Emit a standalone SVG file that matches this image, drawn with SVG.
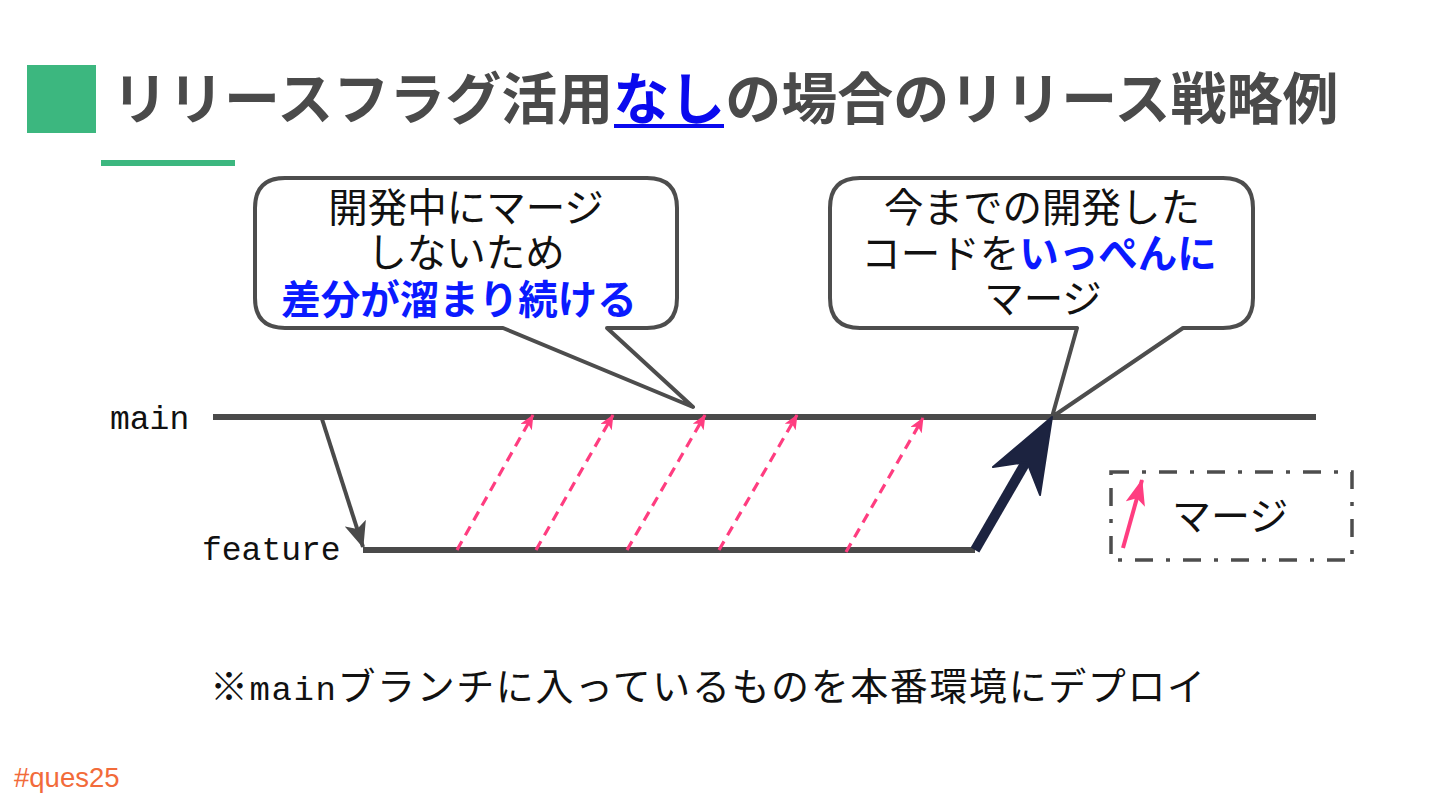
<svg xmlns="http://www.w3.org/2000/svg" width="1440" height="810" viewBox="0 0 1440 810">
<style>
.jp{font-family:"Noto Sans CJK JP","Noto Sans",sans-serif;}
.mono{font-family:"Liberation Mono","DejaVu Sans Mono",monospace;}
.bubble{fill:#fff;stroke:#4d4d4d;stroke-width:4;stroke-linejoin:round;}
.btxt{font-size:39.5px;fill:#111;text-anchor:middle;}
.blue{fill:#0a1aff;font-weight:700;}
.branch{stroke:#4a4a4a;stroke-width:6;fill:none;}
.pink{stroke:#ff3d80;stroke-width:3.2;stroke-dasharray:10 7;fill:none;}
</style>
<defs>
<marker id="pinkHead" markerUnits="userSpaceOnUse" viewBox="0 0 15 13" refX="14" refY="6.5" markerWidth="15" markerHeight="13" orient="auto">
<path d="M0,0 L15,6.5 L0,13 L4,6.5 Z" fill="#ff3d80"/>
</marker>
<marker id="pinkHeadBig" markerUnits="userSpaceOnUse" viewBox="0 0 26 20" refX="25" refY="10" markerWidth="26" markerHeight="20" orient="auto">
<path d="M0,0 L26,10 L0,20 L6,10 Z" fill="#ff3d80"/>
</marker>
<marker id="grayHead" markerUnits="userSpaceOnUse" viewBox="0 0 26 22" refX="25" refY="11" markerWidth="26" markerHeight="22" orient="auto">
<path d="M0,0 L26,11 L0,22 L6,11 Z" fill="#4a4a4a"/>
</marker>
</defs>
<rect width="1440" height="810" fill="#fff"/>

<g id="title">
<rect x="27" y="65" width="69" height="68" fill="#3cb77f"/>
<text x="112" y="119" class="jp" font-size="56" font-weight="700" fill="#4a4a4a">リリースフラグ活用<tspan fill="#0a0aee">なし</tspan>の場合のリリース戦略例</text>
<rect x="614" y="124" width="110" height="4" fill="#0a0aee"/>
<rect x="101" y="160" width="134" height="6" fill="#3cb77f"/>
</g>

<g id="bubble-left">
<path class="bubble" d="M285,178 H647 Q677,178 677,208 V298 Q677,328 647,328 H607 L693,407 L503,328 H285 Q255,328 255,298 V208 Q255,178 285,178 Z"/>
<text class="jp btxt" x="466" y="222">開発中にマージ</text>
<text class="jp btxt" x="466" y="267">しないため</text>
<text class="jp btxt blue" x="459" y="314">差分が溜まり続ける</text>
</g>

<g id="bubble-right">
<path class="bubble" d="M860,178 H1223 Q1253,178 1253,208 V298 Q1253,328 1223,328 H1183 L1052,417 L1077,328 H860 Q830,328 830,298 V208 Q830,178 860,178 Z"/>
<text class="jp btxt" x="1042" y="222">今までの開発した</text>
<text class="jp btxt" x="1039" y="268">コードを<tspan class="blue">いっぺんに</tspan></text>
<text class="jp btxt" x="1043" y="313">マージ</text>
</g>

<g id="main">
<line class="branch" x1="213" y1="417" x2="1316" y2="417"/>
<text class="mono" x="110" y="429" font-size="33" fill="#111">main</text>
</g>

<g id="feature">
<line class="branch" x1="363" y1="550" x2="975" y2="550" stroke-width="5"/>
<text class="mono" x="202" y="560" font-size="33" fill="#111">feature</text>
</g>

<g id="connectors">
<line x1="322" y1="419" x2="363" y2="547" stroke="#4a4a4a" stroke-width="4" marker-end="url(#grayHead)"/>
<line class="pink" x1="457" y1="550" x2="533" y2="415" marker-end="url(#pinkHead)"/>
<line class="pink" x1="536" y1="550" x2="613" y2="415" marker-end="url(#pinkHead)"/>
<line class="pink" x1="627" y1="550" x2="705" y2="415" marker-end="url(#pinkHead)"/>
<line class="pink" x1="719" y1="550" x2="797" y2="415" marker-end="url(#pinkHead)"/>
<line class="pink" x1="846" y1="552" x2="923" y2="418" marker-end="url(#pinkHead)"/>
<line x1="975" y1="550" x2="1030" y2="455" stroke="#1c2340" stroke-width="10"/>
<path d="M1052,417 L1040,495 L1027,462 L993,467 Z" fill="#1c2340" stroke="#1c2340" stroke-width="2" stroke-linejoin="round"/>
</g>

<g id="legend">
<rect x="1111" y="472" width="241" height="88" fill="none" stroke="#4d4d4d" stroke-width="3.5" stroke-dasharray="18 13 4 13"/>
<line x1="1123" y1="548" x2="1142" y2="480" stroke="#ff3d80" stroke-width="4" marker-end="url(#pinkHeadBig)"/>
<text class="jp" x="1172" y="530" font-size="39" fill="#111">マージ</text>
</g>

<g id="note">
<text class="jp" x="210" y="700" font-size="38" fill="#111" textLength="995" lengthAdjust="spacing">※<tspan class="mono" font-size="34">main</tspan>ブランチに入っているものを本番環境にデプロイ</text>
</g>

<g id="hashtag">
<text x="14" y="787" font-family="Liberation Sans, Arial, sans-serif" font-size="27.5" fill="#f26b3a">#ques25</text>
</g>
</svg>
